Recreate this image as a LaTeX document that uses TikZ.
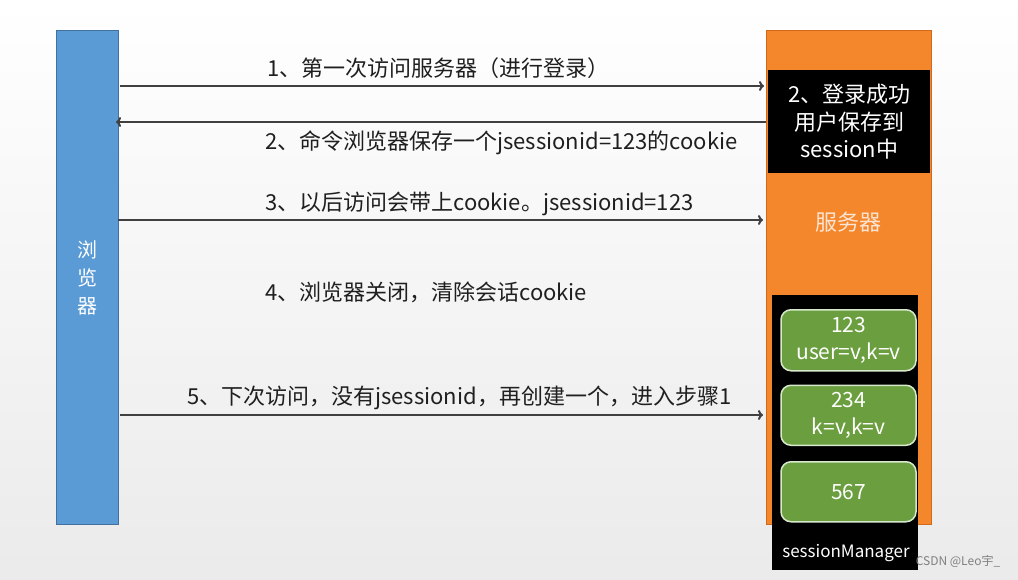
\documentclass[tikz,border=0pt]{standalone}
\usepackage{fontspec}
\setmainfont{Noto Sans CJK SC}
\usetikzlibrary{arrows.meta,positioning}

\definecolor{barblue}{HTML}{5B9BD5}
\definecolor{barblueline}{HTML}{41719C}
\definecolor{barorange}{HTML}{F4872C}
\definecolor{barorangeline}{HTML}{D06A1A}
\definecolor{sessgreen}{HTML}{6A9E3E}
\definecolor{sessline}{HTML}{D8E8CC}
\definecolor{linegray}{HTML}{404040}
\definecolor{srvtext}{HTML}{FCE4D2}

\begin{document}
\begin{tikzpicture}[x=1pt,y=-1pt,
  every node/.style={font=\fontsize{22}{26}\selectfont},
  browserbar/.style={draw=barblueline, fill=barblue, line width=0.8pt, inner sep=0pt},
  serverbar/.style={draw=barorangeline, fill=barorange, line width=0.8pt, inner sep=0pt},
  blackbox/.style={fill=black, text=white, align=center, inner sep=0pt,
    font=\fontsize{22}{27.5}\selectfont},
  sessbox/.style={draw=sessline, fill=sessgreen, text=white, rounded corners=10pt,
    line width=1.5pt, minimum width=135, minimum height=60, align=center, inner sep=0pt,
    font=\fontsize{21}{27}\selectfont},
  msg/.style={draw=linegray, line width=2pt, -{To[length=5pt,width=10pt]}},
  lbl/.style={anchor=west, text=black!88, inner sep=0pt}]

  \shade[top color=white, bottom color=gray!16] (0,0) rectangle (1018,579);
  \useasboundingbox (0,0) rectangle (1018,579);

  % browser side
  \node[browserbar, minimum width=62, minimum height=494, anchor=north west] (browser) at (56,30) {};
  \node[text=white, align=center, font=\fontsize{20}{28}\selectfont] (brname) at (browser.center) {浏\\览\\器};

  % server side
  \node[serverbar, minimum width=165, minimum height=494, anchor=north west] (server) at (766,30) {};
  \node[blackbox, minimum width=162, minimum height=103, anchor=north west] (login) at (768,70) {2、登录成功\\用户保存到\\session中};
  \node[text=srvtext] (srvname) at (848,222) {服务器};

  % session manager
  \node[fill=black, minimum width=146, minimum height=275, inner sep=0pt, anchor=north west] (manager) at (772,295) {};
  \node[sessbox, anchor=north, minimum height=61] (s123) at (848.5,309) {123\\user=v,k=v};
  \node[sessbox, below=13pt of s123] (s234) {234\\k=v,k=v};
  \node[sessbox, below=15pt of s234] (s567) {567};
  \node[text=white, font=\fontsize{17}{20}\selectfont] (mgrname) at (846,553) {sessionManager};

  % messages
  \coordinate (b1) at (120,86);  \coordinate (v1) at (764,86);
  \coordinate (b2) at (116,122); \coordinate (v2) at (766,122);
  \coordinate (b3) at (118,220); \coordinate (v3) at (763,220);
  \coordinate (b5) at (120,415); \coordinate (v5) at (763,415);
  \draw[msg] (b1) -- (v1);
  \draw[msg] (v2) -- (b2);
  \draw[msg] (b3) -- (v3);
  \draw[msg] (b5) -- (v5);

  \node[lbl] (m1) at (267,68) {1、第一次访问服务器（进行登录）};
  \node[lbl] (m2) at (265,143) {2、命令浏览器保存一个jsessionid=123的cookie};
  \node[lbl] (m3) at (265,204) {3、以后访问会带上cookie。jsessionid=123};
  \node[lbl] (m4) at (265,292) {4、浏览器关闭，清除会话cookie};
  \node[lbl] (m5) at (187,398) {5、下次访问，没有jsessionid，再创建一个，进入步骤1};

  \node[text=gray, font=\fontsize{12}{14}\selectfont] (mark) at (958,562) {CSDN @Leo宇\_};
\end{tikzpicture}
\end{document}
